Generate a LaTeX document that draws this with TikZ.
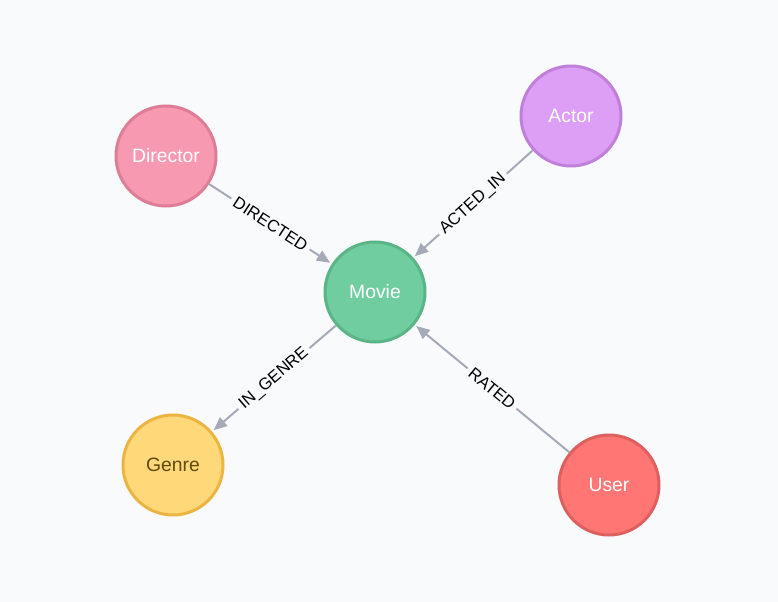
\documentclass[tikz,border=0pt]{standalone}
\usepackage{fontspec}
\setmainfont{Liberation Sans}
\usetikzlibrary{arrows.meta}

\definecolor{bgcol}{RGB}{249,250,252}
\definecolor{edgecol}{RGB}{165,171,182}
\definecolor{dirfill}{RGB}{248,153,178}
\definecolor{dirline}{RGB}{222,125,152}
\definecolor{actfill}{RGB}{221,158,245}
\definecolor{actline}{RGB}{192,128,218}
\definecolor{movfill}{RGB}{111,205,159}
\definecolor{movline}{RGB}{90,180,134}
\definecolor{genfill}{RGB}{255,216,122}
\definecolor{genline}{RGB}{236,181,66}
\definecolor{gentext}{RGB}{96,74,14}
\definecolor{usrfill}{RGB}{255,118,116}
\definecolor{usrline}{RGB}{222,96,94}

\begin{document}
\begin{tikzpicture}[x=0.75pt,y=-0.75pt,
    entity/.style={circle, minimum size=75pt, inner sep=0pt, line width=2.25pt,
        text=white, font=\fontsize{14.5}{16}\selectfont},
    rel/.style={draw=edgecol, line width=1.5pt, shorten >=1.5pt,
        -{Triangle[length=10pt,width=8.5pt]}},
    rellabel/.style={sloped, fill=bgcol, inner sep=3pt, text=black,
        font=\fontsize{12.5}{14}\selectfont}]
    % background
    \fill[bgcol] (0,0) rectangle (778,602);
    \useasboundingbox (0,0) rectangle (778,602);

    % Nodes
    \node[entity, fill=movfill, draw=movline] (movie) at (375,292) {Movie};
    \node[entity, fill=dirfill, draw=dirline] (director) at (166,156) {Director};
    \node[entity, fill=actfill, draw=actline] (actor) at (571,116) {Actor};
    \node[entity, fill=genfill, draw=genline, text=gentext] (genre) at (173,465) {Genre};
    \node[entity, fill=usrfill, draw=usrline] (user) at (609,485) {User};

    % Relationships
    \draw[rel] (director) -- node[rellabel] {DIRECTED} (movie);
    \draw[rel] (actor) -- node[rellabel] {ACTED\_IN} (movie);
    \draw[rel] (movie) -- node[rellabel] {IN\_GENRE} (genre);
    \draw[rel] (user) -- node[rellabel] {RATED} (movie);

\end{tikzpicture}
\end{document}
